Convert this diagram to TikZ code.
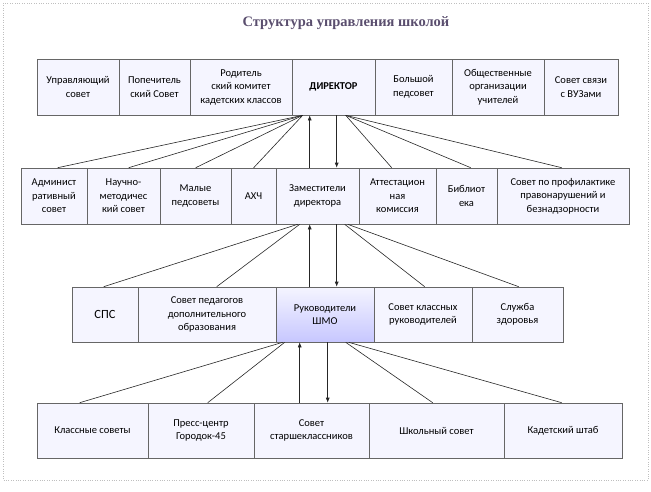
\documentclass[tikz,border=0pt]{standalone}
\usepackage{fontspec}
\setmainfont{Carlito}
\newfontfamily\titlefont{Liberation Serif}
\usetikzlibrary{calc,arrows.meta}
\definecolor{ttl}{HTML}{5A4E6E}
\begin{document}
\begin{tikzpicture}[x=1pt,y=-1pt,
  box/.style={draw=black!60,fill=blue!4,line width=0.6pt,inner sep=1pt,align=center,font=\fontsize{10.5}{13.5}\selectfont,minimum height=#1},
  box/.default=56pt,
  ln/.style={line width=0.6pt,black!85},
  ar/.style={ln,-{Latex[length=5pt,width=4pt]}}]
\useasboundingbox (0,0) rectangle (651,491);
\draw[black!25,dotted] (3,3) rectangle (648,480);
\node[font=\titlefont\bfseries\fontsize{14.5}{16}\selectfont,text=ttl] (title) at (346,23) {Структура управления школой};
% row 1
\node[box,minimum width=82pt] (A1) at (78,87) {Управляющий\\совет};
\node[box,minimum width=71pt] (A2) at (154.5,87) {Попечитель\\ский Совет};
\node[box,minimum width=102pt] (A3) at (241,87) {Родитель\\ский комитет\\кадетских классов};
\node[box,minimum width=83pt,font=\bfseries\fontsize{10.5}{13.5}\selectfont] (D) at (333.5,87) {ДИРЕКТОР};
\node[box,minimum width=77pt] (A5) at (413.5,87) {Большой\\педсовет};
\node[box,minimum width=92pt] (A6) at (498,87) {Общественные\\организации\\учителей};
\node[box,minimum width=74pt] (A7) at (581,87) {Совет связи\\с ВУЗами};
% row 2
\node[box,minimum width=66pt] (B1) at (54,196) {Админист\\ративный\\совет};
\node[box,minimum width=73pt] (B2) at (123.5,196) {Научно-\\методичес\\кий совет};
\node[box,minimum width=71pt] (B3) at (195.5,196) {Малые\\педсоветы};
\node[box,minimum width=45pt] (B4) at (253.5,196) {АХЧ};
\node[box,minimum width=83pt] (Z) at (317.5,196) {Заместители\\директора};
\node[box,minimum width=77pt] (B6) at (397.5,196) {Аттестацион\\ная\\комиссия};
\node[box,minimum width=61pt] (B7) at (466.5,196) {Библиот\\ека};
\node[box,minimum width=132pt] (B8) at (563,196) {Совет по профилактике\\правонарушений и\\безнадзорности};
% row 3
\node[box=55pt,minimum width=66pt,font=\fontsize{12.5}{14}\selectfont] (C1) at (105,314.5) {СПС};
\node[box=55pt,minimum width=138pt] (C2) at (207,314.5) {Совет педагогов\\дополнительного\\образования};
\node[box=55pt,minimum width=98pt,top color=blue!4,bottom color=blue!22] (S) at (325,314.5) {Руководители\\ШМО};
\node[box=55pt,minimum width=98pt] (C4) at (423,314.5) {Совет классных\\руководителей};
\node[box=55pt,minimum width=91pt] (C5) at (517.5,314.5) {Служба\\здоровья};
% row 4
\node[box=55pt,minimum width=111pt] (E1) at (92.5,430.5) {Классные советы};
\node[box=55pt,minimum width=106pt] (E2) at (201,430.5) {Пресс-центр\\Городок-45};
\node[box=55pt,minimum width=115pt] (E3) at (311.5,430.5) {Совет\\старшеклассников};
\node[box=55pt,minimum width=135pt] (E4) at (436.5,430.5) {Школьный совет};
\node[box=55pt,minimum width=118pt] (E5) at (563,430.5) {Кадетский штаб};
% connectors row1-row2
\coordinate (dl) at ($(D.south west)+(11,0)$);
\coordinate (dr) at ($(D.south west)+(54,0)$);
\draw[ln] (dl) -- ($(B1.north west)+(37,0)$);
\draw[ln] (dl) -- ($(B2.north west)+(42,0)$);
\draw[ln] (dl) -- ($(B3.north west)+(36,0)$);
\draw[ln] (dl) -- ($(B4.north west)+(23,0)$);
\draw[ar] ($(Z.north west)+(34,0)$) -- ($(D.south west)+(18,0)$);
\draw[ar] ($(D.south west)+(45,0)$) -- ($(Z.north west)+(61,0)$);
\draw[ln] (dr) -- ($(B6.north west)+(33,0)$);
\draw[ln] (dr) -- ($(B7.north west)+(35,0)$);
\draw[ln] (dr) -- ($(B8.north west)+(65,0)$);
% row2-row3
\coordinate (zl) at ($(Z.south west)+(24,0)$);
\coordinate (zr) at ($(Z.south west)+(69,0)$);
\draw[ln] ($(Z.south west)+(22,0)$) -- ($(C1.north west)+(32,0)$);
\draw[ln] (zl) -- ($(C2.north west)+(79,0)$);
\draw[ar] ($(S.north west)+(34,0)$) -- ($(Z.south west)+(34,0)$);
\draw[ar] ($(Z.south west)+(61,0)$) -- ($(S.north west)+(61,0)$);
\draw[ln] (zr) -- ($(C4.north west)+(51,0)$);
\draw[ln] ($(Z.south west)+(72,0)$) -- ($(C5.north west)+(47,0)$);
% row3-row4
\coordinate (sl) at ($(S.south west)+(7,0)$);
\coordinate (sr) at ($(S.south west)+(73,0)$);
\draw[ln] (sl) -- ($(E1.north west)+(43,0)$);
\draw[ln] ($(S.south west)+(9,0)$) -- ($(E2.north west)+(60,0)$);
\draw[ar] ($(E3.north west)+(46,0)$) -- ($(S.south west)+(24,0)$);
\draw[ar] ($(S.south west)+(52,0)$) -- ($(E3.north west)+(74,0)$);
\draw[ln] ($(S.south west)+(70,0)$) -- ($(E4.north west)+(64,0)$);
\draw[ln] (sr) -- ($(E5.north west)+(58,0)$);
\end{tikzpicture}
\end{document}
